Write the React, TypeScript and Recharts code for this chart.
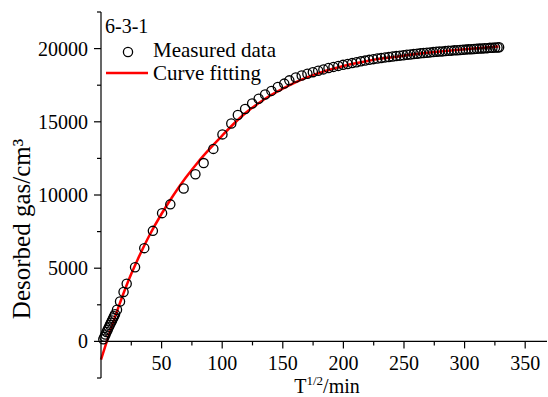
import { ComposedChart, Scatter, Line, XAxis, YAxis, ReferenceLine, Legend } from "recharts";

// measured points (x = T^1/2, y = desorbed gas)
const measuredX = [
  1.9, 2.8, 3.7, 4.6, 5.5, 6.4, 7.3, 8.2, 9.1, 10.0, 10.8, 11.6, 13.2, 15.7, 18.6, 21.2,
  28.1, 35.7, 42.8, 50.4, 57.2, 68.2, 77.9, 84.7, 92.7, 100.2, 107.5, 112.9, 118.9, 124.7,
  130.1, 135.4, 140.6, 145.9, 151.2, 155.4, 160.7, 165.6, 170.3, 174.8, 179.2, 183.5, 187.7,
  191.8, 195.8, 199.7, 203.5, 207.2, 210.8, 214.4, 217.9, 221.3, 224.7, 228.0, 231.2, 234.4,
  237.5, 240.6, 243.6, 246.6, 249.5, 252.4, 255.2, 258.0, 260.8, 263.5, 266.2, 268.9, 271.5,
  274.1, 276.7, 279.2, 281.7, 284.2, 286.7, 289.1, 291.5, 293.9, 296.3, 298.6, 300.9, 303.2,
  305.5, 307.8, 310.0, 312.2, 314.4, 316.6, 318.8, 320.9, 323.0, 325.1, 327.2, 328.5,
];
const measuredY = [
  150, 310, 470, 640, 800, 960, 1120, 1280, 1430, 1580, 1720, 1850, 2160, 2730, 3380, 3940,
  5060, 6370, 7550, 8760, 9360, 10440, 11420, 12180, 13150, 14140, 14880, 15460, 15880, 16250,
  16580, 16870, 17110, 17380, 17610, 17830, 18030, 18160, 18280, 18390, 18490, 18580, 18670,
  18750, 18820, 18890, 18950, 19010, 19070, 19130, 19180, 19230, 19280, 19320, 19360, 19400,
  19430, 19460, 19490, 19520, 19550, 19580, 19600, 19630, 19650, 19680, 19700, 19720, 19740,
  19760, 19780, 19800, 19810, 19830, 19850, 19860, 19880, 19890, 19910, 19920, 19930, 19950,
  19960, 19970, 19990, 20000, 20010, 20020, 20030, 20050, 20060, 20070, 20080, 20090,
];

// fitted curve
const fitX = [0, 5, 10, 15, 20, 25, 30, 40, 50, 60, 70, 80, 90, 100, 110, 120, 130, 140, 150,
  160, 170, 180, 190, 200, 210, 220, 230, 240, 260, 280, 300, 320, 328];
const fitY = [-1250, 50, 1300, 2480, 3600, 4620, 5550, 7250, 8720, 10020, 11190, 12240, 13180,
  14060, 14900, 15650, 16270, 16810, 17270, 17680, 18030, 18330, 18590, 18810, 19000, 19160,
  19300, 19410, 19630, 19810, 19960, 20090, 20140];

const xTicks = [25, 50, 75, 100, 125, 150, 175, 200, 225, 250, 275, 300, 325, 350];
const yTicks = [-2500, 0, 2500, 5000, 7500, 10000, 12500, 15000, 17500, 20000, 22500];

const measured = measuredX.map((x, i) => ({ x, y: measuredY[i] }));
const fit = fitX.map((x, i) => ({ x, y: fitY[i] }));

const W = 548;
const H = 397;
const TOP = 12;
const AXIS_X = 101;
const X_AXIS_H = 19;
const PLOT_H = H - TOP - X_AXIS_H;
const Y_MIN = -2500;
const Y_MAX = 22500;
const ZERO_Y = TOP + (PLOT_H * Y_MAX) / (Y_MAX - Y_MIN);
const serif = { fontFamily: "Liberation Serif, serif" };

const YTick = (props: any) => {
  const { y, payload } = props;
  const major = payload.value % 5000 === 0;
  return (
    <g>
      <line x1={AXIS_X - (major ? 7 : 4)} x2={AXIS_X} y1={y} y2={y} stroke="#000" strokeWidth={1.2} />
      {major && (
        <text x={AXIS_X - 13} y={y} dy="0.35em" textAnchor="end" fontSize={20} style={serif} fill="#000">
          {payload.value}
        </text>
      )}
    </g>
  );
};

const XTick = (props: any) => {
  const { x, payload } = props;
  const major = payload.value % 50 === 0;
  return (
    <g>
      <line x1={x} x2={x} y1={ZERO_Y} y2={ZERO_Y + (major ? 7 : 4)} stroke="#000" strokeWidth={1.2} />
      {major && (
        <text x={x} y={ZERO_Y + 28.5} textAnchor="middle" fontSize={20} style={serif} fill="#000">
          {payload.value}
        </text>
      )}
    </g>
  );
};

const XTitle = (props: any) => {
  const vb = props.viewBox || { x: AXIS_X, y: H - X_AXIS_H, width: W - AXIS_X, height: X_AXIS_H };
  return (
    <text x={vb.x + vb.width / 2 + 3} y={vb.y + 15} textAnchor="middle" fontSize={20} style={serif} fill="#000">
      <tspan>T</tspan>
      <tspan dy={-8} fontSize={13}>1/2</tspan>
      <tspan dy={8}>/min</tspan>
    </text>
  );
};

const YTitle = (props: any) => {
  const vb = props.viewBox || { x: 0, y: TOP, width: AXIS_X, height: PLOT_H };
  const cx = 30;
  const cy = vb.y + vb.height / 2 + 34;
  return (
    <text x={cx} y={cy} transform={`rotate(-90, ${cx}, ${cy})`} textAnchor="middle" fontSize={25} style={serif} fill="#000">
      Desorbed gas/cm³
    </text>
  );
};

const LegendBox = (props: any) => {
  const items = [...(props.payload || [])].sort(
    (a: any, b: any) => (a.type === "circle" ? 0 : 1) - (b.type === "circle" ? 0 : 1)
  );
  return (
    <svg width={200} height={90} style={{ overflow: "visible", display: "block" }}>
      <text x={5} y={23.3} fontSize={20} style={serif} fill="#000">6-3-1</text>
      {items.map((it: any, i: number) => {
        const base = 47 + i * 23;
        return (
          <g key={i}>
            {it.type === "circle" ? (
              <circle cx={28} cy={base - 5} r={4.6} fill="none" stroke="#000" strokeWidth={1.3} />
            ) : (
              <line x1={6} x2={48} y1={base - 7} y2={base - 7} stroke="#ff0000" strokeWidth={2.5} />
            )}
            <text x={53} y={base} fontSize={21} style={serif} fill="#000">{it.value}</text>
          </g>
        );
      })}
    </svg>
  );
};

export default function App() {
  return (
    <div style={{ position: "absolute", left: 0, top: 0, background: "#fff", fontFamily: "Liberation Serif, serif" }}>
      <ComposedChart width={W} height={H} margin={{ top: TOP, right: 1, bottom: 0, left: 0 }}>
        <XAxis
          type="number"
          dataKey="x"
          domain={[0, 368]}
          ticks={xTicks}
          axisLine={false}
          tickLine={false}
          tickSize={0}
          tickMargin={0}
          height={X_AXIS_H}
          tick={<XTick />}
          interval={0}
          label={<XTitle />}
        />
        <YAxis
          type="number"
          domain={[Y_MIN, Y_MAX]}
          ticks={yTicks}
          width={AXIS_X}
          axisLine={{ stroke: "#000", strokeWidth: 1.2 }}
          tickLine={false}
          tickSize={0}
          tickMargin={0}
          tick={<YTick />}
          interval={0}
          label={<YTitle />}
        />
        <ReferenceLine y={0} stroke="#000" strokeWidth={1.2} />
        <Legend
          layout="horizontal"
          verticalAlign="middle"
          align="center"
          content={<LegendBox />}
          wrapperStyle={{ left: 100, top: 10, width: 200, height: 90 }}
        />
        <Scatter
          name="Measured data"
          data={measured}
          dataKey="y"
          legendType="circle"
          isAnimationActive={false}
          shape={(p: any) => (
            <circle cx={p.cx} cy={p.cy} r={4.6} fill="none" stroke="#000" strokeWidth={1.3} />
          )}
        />
        <Line
          name="Curve fitting"
          data={fit}
          dataKey="y"
          type="monotone"
          stroke="#ff0000"
          strokeWidth={2.5}
          dot={false}
          legendType="line"
          isAnimationActive={false}
        />
      </ComposedChart>
    </div>
  );
}
